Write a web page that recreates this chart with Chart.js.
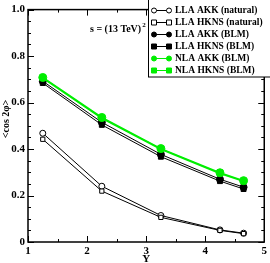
<!DOCTYPE html>
<html><head><meta charset="utf-8">
<script src="https://cdn.jsdelivr.net/npm/chart.js@4/dist/chart.umd.min.js"></script>
<style>html,body{margin:0;padding:0;background:#fff}#wrap{width:270px;height:263px}</style>
</head><body><div id="wrap"><canvas id="c" width="270" height="263"></canvas></div>
<script>
const rapidity = [1.25, 2.25, 3.25, 4.25, 4.65];
const llaAkkNatural = [0.468, 0.240, 0.114, 0.052, 0.038];
const llaHknsNatural = [0.442, 0.219, 0.106, 0.050, 0.036];
const llaAkkBlm = [0.692, 0.515, 0.377, 0.270, 0.236];
const llaHknsBlm = [0.684, 0.504, 0.367, 0.262, 0.228];
const nlaAkkBlm = [0.708, 0.536, 0.402, 0.298, 0.264];
const nlaHknsBlm = [0.705, 0.532, 0.399, 0.295, 0.261];
const seriesLabels = ["LLA AKK (natural)", "LLA HKNS (natural)", "LLA AKK (BLM)", "LLA HKNS (BLM)", "NLA AKK (BLM)", "NLA HKNS (BLM)"];
const xTicks = [1, 2, 3, 4, 5];
const yTicks = [0, 0.2, 0.4, 0.6, 0.8, 1];

const GREEN = '#00ee00';
const FONT = '"Liberation Serif", "Times New Roman", serif';
function pts(vals){ return rapidity.map((x,i)=>({x:x,y:vals[i]})); }

const styles = [
  {data: llaAkkNatural, style:'circle', fill:'#fff', color:'#000', r:3, w:1, order:6, labelIdx:0},
  {data: llaHknsNatural, style:'rect', fill:'#fff', color:'#000', r:3, w:1, order:5, labelIdx:1},
  {data: llaAkkBlm, style:'circle', fill:'#000', color:'#000', r:3.5, w:1, order:4, labelIdx:2},
  {data: llaHknsBlm, style:'rect', fill:'#000', color:'#000', r:3.5, w:1, order:3, labelIdx:3},
  {data: nlaHknsBlm, style:'rect', fill:GREEN, color:GREEN, r:3.5, w:1.5, order:2, labelIdx:5},
  {data: nlaAkkBlm, style:'circle', fill:GREEN, color:GREEN, r:4, w:1.5, order:1, labelIdx:4},
];
const datasets = styles.map((s)=>({
  label: seriesLabels[s.labelIdx],
  data: pts(s.data),
  borderColor: s.color, backgroundColor: s.fill,
  pointBorderColor: s.color,
  pointBackgroundColor: s.fill,
  pointStyle: s.style, pointRadius: s.r, pointBorderWidth: 1,
  borderWidth: s.w, order: s.order, tension: 0, showLine: true
}));

const frame = {
  id:'frame',
  afterDatasetsDraw(chart){
    const ctx = chart.ctx, a = chart.chartArea, xs = chart.scales.x, ys = chart.scales.y;
    ctx.save();
    ctx.strokeStyle = '#000'; ctx.lineWidth = 1.5;
    ctx.strokeRect(a.left, a.top, a.right-a.left, a.bottom-a.top);
    ctx.lineWidth = 1;
    for (let v = 1; v <= 5.001; v += 0.5) {
      const major = Math.abs(v - Math.round(v)) < 1e-6;
      const len = major ? 6 : 3;
      const px = Math.round(xs.getPixelForValue(v)) + 0.5;
      ctx.beginPath();
      ctx.moveTo(px, a.bottom); ctx.lineTo(px, a.bottom - len);
      ctx.moveTo(px, a.top); ctx.lineTo(px, a.top + len);
      ctx.stroke();
    }
    for (let k = 0; k <= 20; k++) {
      const v = k * 0.05;
      const major = k % 4 === 0;
      const len = major ? 6 : 3;
      const py = Math.round(ys.getPixelForValue(v)) + 0.5;
      ctx.beginPath();
      ctx.moveTo(a.left, py); ctx.lineTo(a.left + len, py);
      ctx.moveTo(a.right, py); ctx.lineTo(a.right - len, py);
      ctx.stroke();
    }
    ctx.fillStyle = '#000';
    ctx.font = 'bold 11px ' + FONT;
    ctx.textAlign = 'center'; ctx.textBaseline = 'middle';
    ctx.fillText('Y', xs.getPixelForValue(3), 259.5);
    ctx.save();
    ctx.translate(6, 119);
    ctx.rotate(-Math.PI/2);
    ctx.font = 'bold 10px ' + FONT;
    ctx.fillText('<cos 2\u03c6>', 0, 0);
    ctx.restore();
    ctx.font = 'bold 10px ' + FONT;
    ctx.textAlign = 'left';
    const t = 's = (13 TeV)';
    ctx.fillText(t, 90, 29);
    const w = ctx.measureText(t).width;
    ctx.font = 'bold 7px ' + FONT;
    ctx.fillText('2', 90 + w + 1, 25);
    const lx = 148, ly = -1, lw = 124, lh = 78;
    ctx.fillStyle = '#fff';
    ctx.fillRect(lx, ly, lw, lh);
    ctx.strokeStyle = '#000'; ctx.lineWidth = 1;
    ctx.strokeRect(lx + 0.5, ly + 0.5, lw, lh - 0.5);
    const legendOrder = [0,1,2,3,5,4];
    legendOrder.forEach((di, row) => {
      const ds = chart.data.datasets[di];
      const y = 10.5 + row * 12;
      ctx.strokeStyle = ds.borderColor; ctx.lineWidth = 1;
      ctx.beginPath(); ctx.moveTo(154, y); ctx.lineTo(169, y); ctx.stroke();
      [154, 169].forEach(mx => {
        ctx.fillStyle = ds.pointBackgroundColor;
        ctx.strokeStyle = ds.pointBorderColor;
        const r = 2.5;
        ctx.beginPath();
        if (ds.pointStyle === 'circle') ctx.arc(mx, y, r, 0, Math.PI*2);
        else ctx.rect(mx - r, y - r, 2*r, 2*r);
        ctx.fill(); ctx.stroke();
      });
      ctx.fillStyle = '#000';
      ctx.font = 'bold 9.5px ' + FONT;
      ctx.textAlign = 'left'; ctx.textBaseline = 'middle';
      ctx.fillText(ds.label, 175, y + 0.5);
    });
    ctx.restore();
  }
};

new Chart(document.getElementById('c'), {
  type: 'scatter',
  data: { datasets },
  options: {
    responsive: false, animation: false, devicePixelRatio: 1,
    layout: { padding: { left: 0, right: 4, top: 5, bottom: 0 } },
    plugins: { legend: { display: false }, tooltip: { enabled: false } },
    scales: {
      x: {
        type: 'linear', min: 1, max: 5,
        afterFit(s){ s.height = 21; },
        afterBuildTicks(s){ s.ticks = xTicks.map(v=>({value:v})); },
        grid: { display: false, drawTicks: false },
        border: { display: false },
        ticks: { padding: 3, color: '#000', font: { family: FONT, size: 11, weight: 'bold' }, maxRotation: 0 }
      },
      y: {
        type: 'linear', min: 0, max: 1,
        afterFit(s){ s.width = 28; },
        afterBuildTicks(s){ s.ticks = yTicks.map(v=>({value:v})); },
        grid: { display: false, drawTicks: false },
        border: { display: false },
        ticks: { padding: 3, color: '#000', font: { family: FONT, size: 11, weight: 'bold' } }
      }
    }
  },
  plugins: [frame]
});
</script>
</body></html>
